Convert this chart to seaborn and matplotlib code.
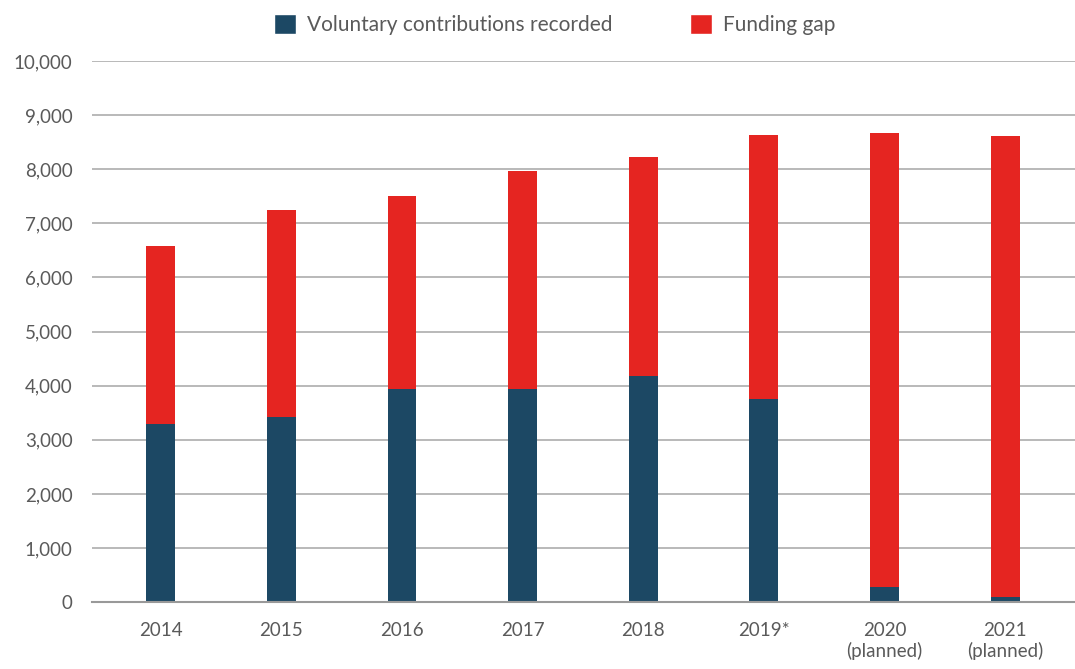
import pandas as pd
import seaborn as sns
import matplotlib.pyplot as plt
from matplotlib.patches import Patch
from matplotlib.ticker import FuncFormatter

years = ['2014', '2015', '2016', '2017', '2018', '2019*', '2020\n(planned)', '2021\n(planned)']
contributions = [3300, 3420, 3940, 3940, 4180, 3750, 280, 95]
totals = [6580, 7250, 7500, 7970, 8230, 8630, 8670, 8610]

blue = '#1c4864'
red = '#e52521'
grey = '#5a5a5a'

df = pd.DataFrame({'year': years, 'contrib': contributions, 'total': totals})

sns.set_style('white')
plt.rcParams['font.family'] = ['Lato', 'DejaVu Sans']

fig = plt.figure(figsize=(10.75, 6.69), dpi=100)
ax = fig.add_axes([0.0856, 0.1, 0.9144, 0.8088])

sns.barplot(data=df, x='year', y='total', color=red, width=0.24, saturation=1,
            linewidth=0, ax=ax)
sns.barplot(data=df, x='year', y='contrib', color=blue, width=0.24, saturation=1,
            linewidth=0, ax=ax)

ax.set_ylim(0, 10000)
ax.set_xlim(-0.57, 7.58)
ax.set_yticks(range(0, 10001, 1000))
ax.yaxis.set_major_formatter(FuncFormatter(lambda v, p: f'{int(v):,}'))
ax.grid(axis='y', color='#b3b3b3', linewidth=1.3)
ax.set_axisbelow(True)
for s in ['top', 'right', 'left']:
    ax.spines[s].set_visible(False)
ax.spines['bottom'].set_color('#999999')
ax.spines['bottom'].set_linewidth(1.5)
ax.tick_params(axis='both', length=0, labelsize=13.5, colors=grey)
ax.tick_params(axis='x', pad=14)
ax.tick_params(axis='y', pad=14)
ax.set_xlabel('')
ax.set_ylabel('')

handles = [Patch(facecolor=blue, label='Voluntary contributions recorded'),
           Patch(facecolor=red, label='Funding gap')]
fig.legend(handles=handles, loc='center', bbox_to_anchor=(0.516, 0.963), ncol=2,
           frameon=False, fontsize=15, handlelength=1.05, handleheight=1.05,
           columnspacing=3.7, handletextpad=0.55, labelcolor=grey)

fig.savefig('out.png', dpi=100)
